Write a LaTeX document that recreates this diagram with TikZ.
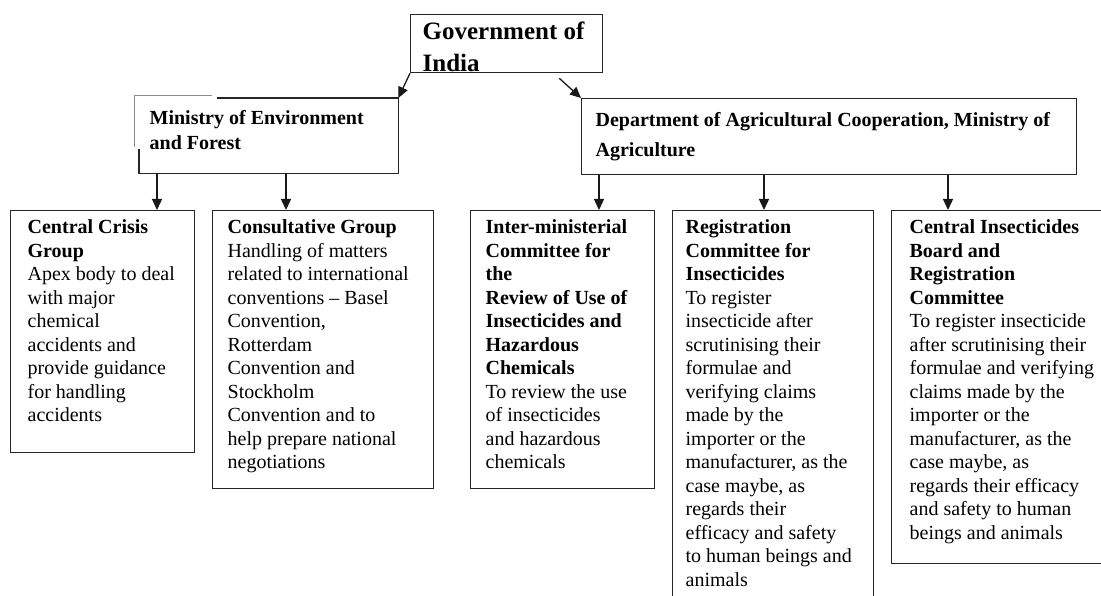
\documentclass[tikz,border=0pt]{standalone}
\usepackage{fontspec}
\setmainfont{Liberation Serif}
\usetikzlibrary{arrows.meta,positioning}

\begin{document}
\begin{tikzpicture}[x=1pt,y=-1pt,>={Triangle[length=11pt,width=10pt]},line width=1.3pt]
	\tikzstyle{every node}=[font=\fontsize{20}{23.5}\selectfont]
	\tikzstyle{box}=[draw=black!85,anchor=north west,inner sep=0pt]
	\tikzstyle{txt}=[anchor=north west,align=left,inner sep=0pt]
	\tikzstyle{link}=[->,draw=black!90]
	\useasboundingbox (0,0) rectangle (1101,596);
	% top level
	\node[box]	(gov)[minimum width=192,minimum height=58] at (410,14) {};
	\node[txt]	(govtext)[below right=7pt and 12pt of gov.north west,font=\fontsize{25}{32}\selectfont\bfseries] {Government of\\India};
	\node[anchor=north west,inner sep=0pt]	(moef)[minimum width=258,minimum height=74] at (139,98) {};
	\node[txt]	(moeftext)[below right=12pt and 10pt of moef.north west,font=\fontsize{20}{25}\selectfont\bfseries] {Ministry of Environment\\and Forest};
	\draw[draw=black!85] ([xshift=78]moef.north west) -- (moef.north east) -- (moef.south east) -- (moef.south west) -- ([yshift=-51]moef.north west);
	\draw[draw=black!45,line width=1pt] ([shift={(-5,49)}]moef.north west) -- ([shift={(-5,-2)}]moef.north west) -- ([shift={(73,-2)}]moef.north west);
	\node[box]	(dept)[minimum width=495,minimum height=76] at (581,98) {};
	\node[txt]	(depttext)[below right=14pt and 14pt of dept.north west,font=\fontsize{20}{30}\selectfont\bfseries] {Department of Agricultural Cooperation, Ministry of\\Agriculture};
	% committees
	\node[box]	(crisis)[minimum width=184,minimum height=242] at (10,210) {};
	\node[txt]	(crisistext)[below right=9pt and 17pt of crisis.north west] {\textbf{Central Crisis}\\\textbf{Group}\\Apex body to deal\\with major\\chemical\\accidents and\\provide guidance\\for handling\\accidents};
	\node[box]	(consult)[minimum width=221,minimum height=278] at (212,210) {};
	\node[txt]	(consulttext)[below right=9pt and 15pt of consult.north west] {\textbf{Consultative Group}\\Handling of matters\\related to international\\conventions – Basel\\Convention,\\Rotterdam\\Convention and\\Stockholm\\Convention and to\\help prepare national\\negotiations};
	\node[box]	(inter)[minimum width=184,minimum height=278] at (470,210) {};
	\node[txt]	(intertext)[below right=9pt and 15pt of inter.north west] {\textbf{Inter-ministerial}\\\textbf{Committee for}\\\textbf{the}\\\textbf{Review of Use of}\\\textbf{Insecticides and}\\\textbf{Hazardous}\\\textbf{Chemicals}\\To review the use\\of insecticides\\and hazardous\\chemicals};
	\node[box]	(reg)[minimum width=201,minimum height=400] at (672,210) {};
	\node[txt]	(regtext)[below right=9pt and 13pt of reg.north west] {\textbf{Registration}\\\textbf{Committee for}\\\textbf{Insecticides}\\To register\\insecticide after\\scrutinising their\\formulae and\\verifying claims\\made by the\\importer or the\\manufacturer, as the\\case maybe, as\\regards their\\efficacy and safety\\to human beings and\\animals};
	\node[box]	(cib)[minimum width=230,minimum height=353] at (891,210) {};
	\node[txt]	(cibtext)[below right=9pt and 18pt of cib.north west] {\textbf{Central Insecticides}\\\textbf{Board and}\\\textbf{Registration}\\\textbf{Committee}\\To register insecticide\\after scrutinising their\\formulae and verifying\\claims made by the\\importer or the\\manufacturer, as the\\case maybe, as\\regards their efficacy\\and safety to human\\beings and animals};
	% links
	\draw[link] (gov.south west) -- (moef.north east);
	\draw[link] ([shift={(-44,5)}]gov.south east) -- (dept.north west);
	\draw[link] ([xshift=18]moef.south west) -- ([xshift=18]moef.south west |- crisis.north);
	\draw[link] ([xshift=147]moef.south west) -- ([xshift=147]moef.south west |- consult.north);
	\draw[link] ([xshift=18]dept.south west) -- ([xshift=18]dept.south west |- inter.north);
	\draw[link] ([xshift=183]dept.south west) -- ([xshift=183]dept.south west |- reg.north);
	\draw[link] ([xshift=367]dept.south west) -- ([xshift=367]dept.south west |- cib.north);
\end{tikzpicture}
\end{document}
